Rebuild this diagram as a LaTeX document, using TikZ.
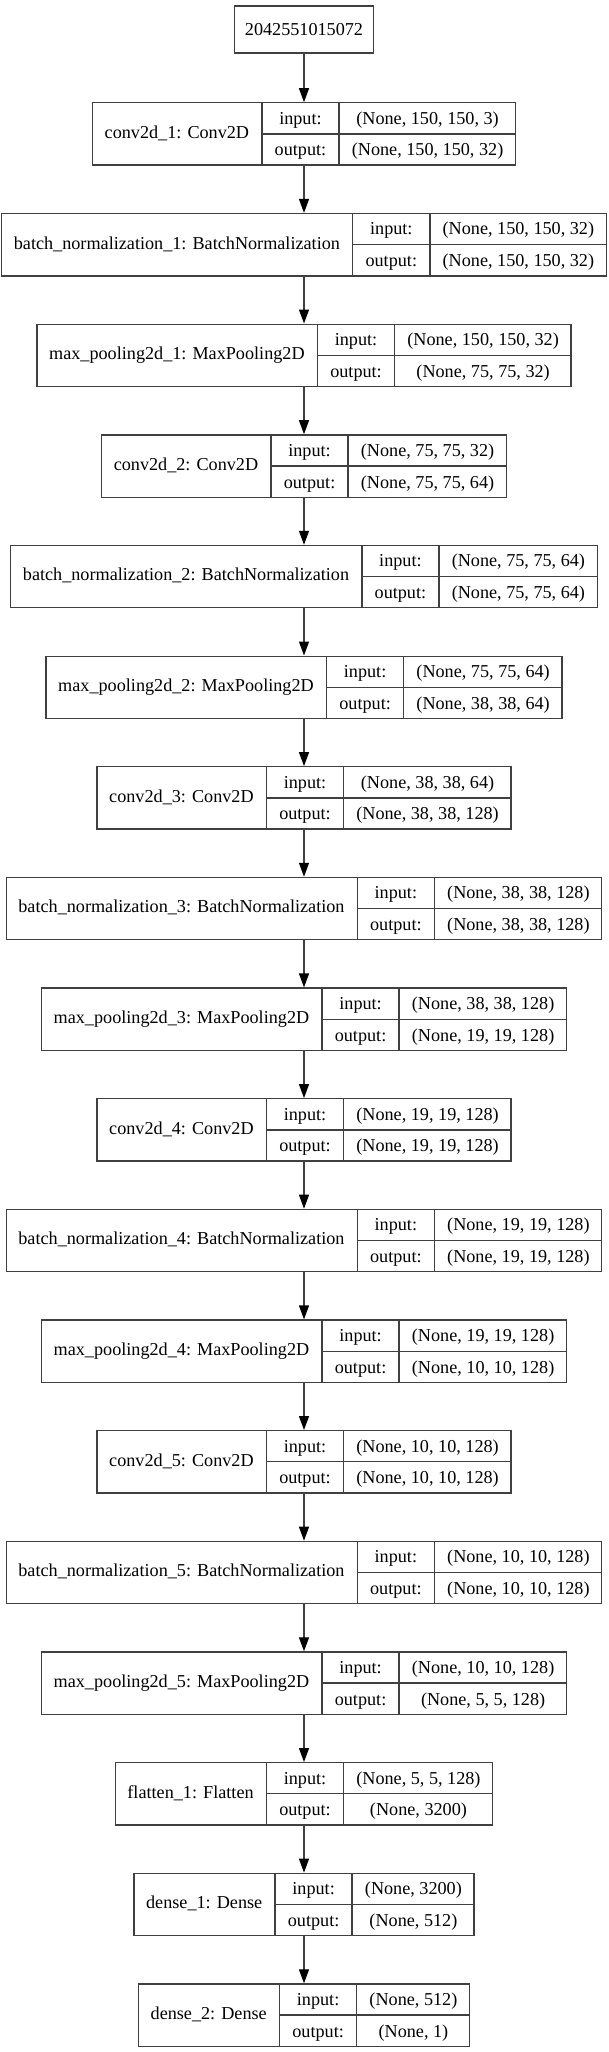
\documentclass[tikz,border=0pt]{standalone}
\usepackage{fontspec}
\setmainfont{Liberation Serif}
\usepackage{colortbl}
\usetikzlibrary{arrows.meta}

\definecolor{linegray}{gray}{0.25}
\setlength{\tabcolsep}{12.15pt}
\setlength{\arrayrulewidth}{1.3pt}
\arrayrulecolor{linegray}

% one keras layer: name | input:/output: | shapes
\newcommand{\layerrec}[3]{%
  \begin{tabular}{c|@{}c@{}|@{}c@{}}
    #1 &
    \begin{tabular}{c}input:\\\hline output:\end{tabular} &
    \begin{tabular}{c}#2\\\hline #3\end{tabular}
  \end{tabular}}

\begin{document}
\begin{tikzpicture}[x=1pt, y=-1pt,
  every node/.style={font=\fontsize{18.18}{30.5}\selectfont},
  layer/.style={draw=linegray, line width=1.3pt, inner sep=0pt},
  arr/.style={draw=linegray, line width=1.3pt, -{Triangle[length=14pt, width=10pt, color=black]}}]
	\useasboundingbox (0,0) rectangle (608,2052);
	\node[layer, minimum width=139pt, minimum height=47pt] (input) at (304,29.5) {2042551015072};
	\node[layer] (conv1) at (304,134) {\layerrec{conv2d\_1: Conv2D}{(None, 150, 150, 3)}{(None, 150, 150, 32)}};
	\node[layer] (bn1) at (304,244.7) {\layerrec{batch\_normalization\_1: BatchNormalization}{(None, 150, 150, 32)}{(None, 150, 150, 32)}};
	\node[layer] (pool1) at (304,355.3) {\layerrec{max\_pooling2d\_1: MaxPooling2D}{(None, 150, 150, 32)}{(None, 75, 75, 32)}};
	\node[layer] (conv2) at (304,466) {\layerrec{conv2d\_2: Conv2D}{(None, 75, 75, 32)}{(None, 75, 75, 64)}};
	\node[layer] (bn2) at (304,576.6) {\layerrec{batch\_normalization\_2: BatchNormalization}{(None, 75, 75, 64)}{(None, 75, 75, 64)}};
	\node[layer] (pool2) at (304,687.3) {\layerrec{max\_pooling2d\_2: MaxPooling2D}{(None, 75, 75, 64)}{(None, 38, 38, 64)}};
	\node[layer] (conv3) at (304,797.9) {\layerrec{conv2d\_3: Conv2D}{(None, 38, 38, 64)}{(None, 38, 38, 128)}};
	\node[layer] (bn3) at (304,908.6) {\layerrec{batch\_normalization\_3: BatchNormalization}{(None, 38, 38, 128)}{(None, 38, 38, 128)}};
	\node[layer] (pool3) at (304,1019.2) {\layerrec{max\_pooling2d\_3: MaxPooling2D}{(None, 38, 38, 128)}{(None, 19, 19, 128)}};
	\node[layer] (conv4) at (304,1129.9) {\layerrec{conv2d\_4: Conv2D}{(None, 19, 19, 128)}{(None, 19, 19, 128)}};
	\node[layer] (bn4) at (304,1240.5) {\layerrec{batch\_normalization\_4: BatchNormalization}{(None, 19, 19, 128)}{(None, 19, 19, 128)}};
	\node[layer] (pool4) at (304,1351.2) {\layerrec{max\_pooling2d\_4: MaxPooling2D}{(None, 19, 19, 128)}{(None, 10, 10, 128)}};
	\node[layer] (conv5) at (304,1461.8) {\layerrec{conv2d\_5: Conv2D}{(None, 10, 10, 128)}{(None, 10, 10, 128)}};
	\node[layer] (bn5) at (304,1572.5) {\layerrec{batch\_normalization\_5: BatchNormalization}{(None, 10, 10, 128)}{(None, 10, 10, 128)}};
	\node[layer] (pool5) at (304,1683.1) {\layerrec{max\_pooling2d\_5: MaxPooling2D}{(None, 10, 10, 128)}{(None, 5, 5, 128)}};
	\node[layer] (flat1) at (304,1793.8) {\layerrec{flatten\_1: Flatten}{(None, 5, 5, 128)}{(None, 3200)}};
	\node[layer] (dense1) at (304,1904.4) {\layerrec{dense\_1: Dense}{(None, 3200)}{(None, 512)}};
	\node[layer] (dense2) at (304,2015.1) {\layerrec{dense\_2: Dense}{(None, 512)}{(None, 1)}};
	\draw[arr] (input) -- (conv1);
	\draw[arr] (conv1) -- (bn1);
	\draw[arr] (bn1) -- (pool1);
	\draw[arr] (pool1) -- (conv2);
	\draw[arr] (conv2) -- (bn2);
	\draw[arr] (bn2) -- (pool2);
	\draw[arr] (pool2) -- (conv3);
	\draw[arr] (conv3) -- (bn3);
	\draw[arr] (bn3) -- (pool3);
	\draw[arr] (pool3) -- (conv4);
	\draw[arr] (conv4) -- (bn4);
	\draw[arr] (bn4) -- (pool4);
	\draw[arr] (pool4) -- (conv5);
	\draw[arr] (conv5) -- (bn5);
	\draw[arr] (bn5) -- (pool5);
	\draw[arr] (pool5) -- (flat1);
	\draw[arr] (flat1) -- (dense1);
	\draw[arr] (dense1) -- (dense2);
\end{tikzpicture}
\end{document}
